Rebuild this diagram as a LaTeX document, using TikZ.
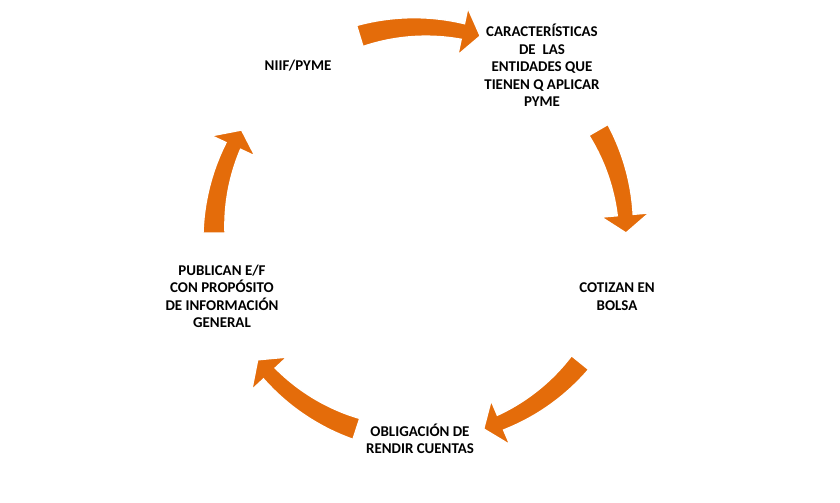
\documentclass[tikz,border=0pt]{standalone}
\usepackage{fontspec}
\setmainfont{Carlito}
\usetikzlibrary{positioning}

\definecolor{arroworange}{RGB}{228,108,10}

% curved block arrow on the cycle: #1 = tail angle, #2 = tip angle
\newcommand{\cyclearrow}[2]{%
  \pgfmathsetmacro{\hb}{#2+5}%
  \filldraw[cyclebend]
    plot[domain=#1:\hb, samples=24] (\x:{206+(11-3*(\x-#1)/(\hb-#1))})
    -- (\hb:230) -- (#2:206) -- (\hb:182)
    -- plot[domain=\hb:#1, samples=24] (\x:{206-(11-3*(\x-#1)/(\hb-#1))})
    -- cycle;
}

\begin{document}
\begin{tikzpicture}[
    x=0.02cm, y=0.02cm,
    stage/.style={align=center, inner sep=0pt, text=black, font=\fontsize{8.5}{9.9}\selectfont\bfseries},
    cyclebend/.style={fill=arroworange, draw=white, line width=0.8pt}
]
\fill[white] (0,0) rectangle (840,503);

% stages of the cycle
\node[stage] (niif) at (298,437) {NIIF/PYME};
\node[stage] (carac) at (542,437.5) {CARACTERÍSTICAS\\DE\ \ LAS\\ENTIDADES QUE\\TIENEN Q APLICAR\\PYME};
\node[stage] (bolsa) at (617,206.5) {COTIZAN EN\\BOLSA};
\node[stage] (rendir) at (420,64.5) {OBLIGACIÓN DE\\RENDIR CUENTAS};
\node[stage] (publican) at (222,206.5) {PUBLICAN E/F\\CON PROPÓSITO\\DE INFORMACIÓN\\GENERAL};

% arrows round the centre
\coordinate (c) at (420,270);
\begin{scope}[shift={(c)}]
\cyclearrow{107}{73}
\cyclearrow{30}{0}
\cyclearrow{-39}{-72}
\cyclearrow{-108}{-142}
\cyclearrow{180}{150}
\end{scope}

\end{tikzpicture}
\end{document}
